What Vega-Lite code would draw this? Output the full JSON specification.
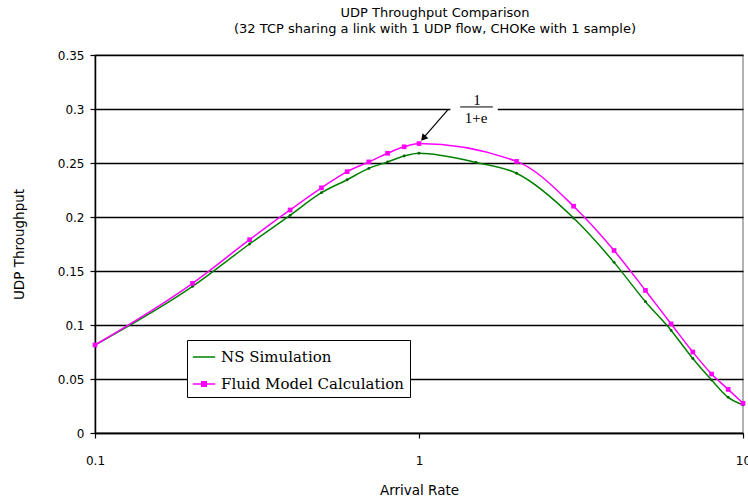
{
  "$schema": "https://vega.github.io/schema/vega-lite/v6.json",
  "width": 648,
  "height": 378,
  "autosize": {"type": "none"},
  "padding": {"left": 95, "top": 55, "right": 5, "bottom": 70},
  "background": "white",
  "title": {
    "text": ["UDP Throughput Comparison", "(32 TCP sharing a link with 1 UDP flow, CHOKe with 1 sample)"],
    "font": "DejaVu Sans",
    "fontSize": 13,
    "fontWeight": "normal",
    "lineHeight": 16,
    "color": "black",
    "offset": 13,
    "dx": 16
  },
  "config": {
    "view": {"stroke": "#999999", "strokeWidth": 1.5},
    "axis": {
      "labelFont": "DejaVu Sans",
      "labelFontSize": 12,
      "labelColor": "black",
      "titleFont": "DejaVu Sans",
      "titleFontSize": 13.5,
      "titleFontWeight": "normal",
      "titleColor": "black",
      "domainColor": "black",
      "domainWidth": 1.5,
      "tickColor": "black",
      "tickSize": 5,
      "tickWidth": 1.2,
      "gridColor": "black",
      "gridWidth": 1.5,
      "gridOpacity": 1
    }
  },
  "datasets": {
    "curves": [
      {"x": 0.1, "y": 0.0815, "series": "NS Simulation"},
      {"x": 0.2, "y": 0.1357, "series": "NS Simulation"},
      {"x": 0.3, "y": 0.175, "series": "NS Simulation"},
      {"x": 0.4, "y": 0.2015, "series": "NS Simulation"},
      {"x": 0.5, "y": 0.2225, "series": "NS Simulation"},
      {"x": 0.6, "y": 0.2345, "series": "NS Simulation"},
      {"x": 0.7, "y": 0.245, "series": "NS Simulation"},
      {"x": 0.8, "y": 0.251, "series": "NS Simulation"},
      {"x": 0.9, "y": 0.2565, "series": "NS Simulation"},
      {"x": 1, "y": 0.259, "series": "NS Simulation"},
      {"x": 1.5, "y": 0.2505, "series": "NS Simulation"},
      {"x": 2, "y": 0.2405, "series": "NS Simulation"},
      {"x": 3, "y": 0.199, "series": "NS Simulation"},
      {"x": 4, "y": 0.158, "series": "NS Simulation"},
      {"x": 5, "y": 0.1216, "series": "NS Simulation"},
      {"x": 6, "y": 0.095, "series": "NS Simulation"},
      {"x": 7, "y": 0.069, "series": "NS Simulation"},
      {"x": 8, "y": 0.049, "series": "NS Simulation"},
      {"x": 9, "y": 0.033, "series": "NS Simulation"},
      {"x": 10, "y": 0.026, "series": "NS Simulation"},
      {"x": 0.1, "y": 0.0815, "series": "Fluid Model Calculation"},
      {"x": 0.2, "y": 0.1386, "series": "Fluid Model Calculation"},
      {"x": 0.3, "y": 0.179, "series": "Fluid Model Calculation"},
      {"x": 0.4, "y": 0.2065, "series": "Fluid Model Calculation"},
      {"x": 0.5, "y": 0.227, "series": "Fluid Model Calculation"},
      {"x": 0.6, "y": 0.242, "series": "Fluid Model Calculation"},
      {"x": 0.7, "y": 0.251, "series": "Fluid Model Calculation"},
      {"x": 0.8, "y": 0.259, "series": "Fluid Model Calculation"},
      {"x": 0.9, "y": 0.265, "series": "Fluid Model Calculation"},
      {"x": 1, "y": 0.268, "series": "Fluid Model Calculation"},
      {"x": 2, "y": 0.2515, "series": "Fluid Model Calculation"},
      {"x": 3, "y": 0.21, "series": "Fluid Model Calculation"},
      {"x": 4, "y": 0.169, "series": "Fluid Model Calculation"},
      {"x": 5, "y": 0.132, "series": "Fluid Model Calculation"},
      {"x": 6, "y": 0.101, "series": "Fluid Model Calculation"},
      {"x": 7, "y": 0.075, "series": "Fluid Model Calculation"},
      {"x": 8, "y": 0.0546, "series": "Fluid Model Calculation"},
      {"x": 9, "y": 0.0404, "series": "Fluid Model Calculation"},
      {"x": 10, "y": 0.0275, "series": "Fluid Model Calculation"}
    ],
    "labelbox": [{"x": 1.25, "x2": 1.75, "y": 0.284, "y2": 0.327}],
    "fractext": [
      {"x": 1.51, "y": 0.3083, "label": "1"},
      {"x": 1.5, "y": 0.2914, "label": "1+e"}
    ],
    "fracbar": [{"x": 1.34, "x2": 1.69, "y": 0.3019}],
    "arrow": [{"x": 1.231, "y": 0.2997, "x2": 1.04, "y2": 0.2745}],
    "arrowhead": [{"x": 1.031, "y": 0.2729}]
  },
  "layer": [
    {
      "data": {"name": "labelbox"},
      "mark": {"type": "rect", "fill": "white"},
      "encoding": {
        "x": {"field": "x", "type": "quantitative", "scale": {"type": "log", "domain": [0.1, 10]}},
        "x2": {"field": "x2"},
        "y": {"field": "y", "type": "quantitative", "scale": {"domain": [0, 0.35]}},
        "y2": {"field": "y2"}
      }
    },
    {
      "data": {"name": "curves"},
      "mark": {"type": "line", "interpolate": "monotone", "strokeWidth": 1.5},
      "encoding": {
        "x": {
          "field": "x", "type": "quantitative",
          "scale": {"type": "log", "domain": [0.1, 10], "nice": false},
          "axis": {"values": [0.1, 1, 10], "format": "~g", "grid": false, "title": "Arrival Rate", "labelPadding": 17, "titlePadding": 17, "labelFlush": false}
        },
        "y": {
          "field": "y", "type": "quantitative",
          "scale": {"domain": [0, 0.35], "nice": false},
          "axis": {"values": [0, 0.05, 0.1, 0.15, 0.2, 0.25, 0.3, 0.35], "format": "~g", "title": "UDP Throughput", "labelPadding": 6, "titlePadding": 31}
        },
        "color": {
          "field": "series", "type": "nominal",
          "scale": {"domain": ["NS Simulation", "Fluid Model Calculation"], "range": ["#008000", "#ff00ff"]},
          "legend": {
            "title": null,
            "orient": "none",
            "legendX": 92,
            "legendY": 285,
            "direction": "vertical",
            "strokeColor": "black",
            "fillColor": "white",
            "padding": 5,
            "labelFont": "DejaVu Serif",
            "labelFontSize": 15,
            "labelColor": "black",
            "labelOffset": 5,
            "labelLimit": 400,
            "symbolType": "stroke",
            "symbolSize": 500,
            "symbolStrokeWidth": 1.5,
            "rowPadding": 7,
            "encode": {
              "symbols": {
                "update": {
                  "shape": {"signal": "datum.value === 'NS Simulation' ? 'M-1,0L1,0' : 'M-1,0L1,0M-0.2,-0.2L0.2,-0.2L0.2,0.2L-0.2,0.2Z'"},
                  "fill": {"signal": "datum.value === 'NS Simulation' ? 'transparent' : '#ff00ff'"}
                }
              }
            }
          }
        }
      }
    },
    {
      "data": {"name": "curves"},
      "mark": {"type": "point", "filled": true, "opacity": 1},
      "encoding": {
        "x": {"field": "x", "type": "quantitative", "scale": {"type": "log", "domain": [0.1, 10]}},
        "y": {"field": "y", "type": "quantitative"},
        "color": {"field": "series", "type": "nominal", "scale": {"domain": ["NS Simulation", "Fluid Model Calculation"], "range": ["#006400", "#ff00ff"]}, "legend": null},
        "shape": {"field": "series", "type": "nominal", "scale": {"domain": ["NS Simulation", "Fluid Model Calculation"], "range": ["circle", "square"]}, "legend": null},
        "size": {"field": "series", "type": "nominal", "scale": {"domain": ["NS Simulation", "Fluid Model Calculation"], "range": [8, 22]}, "legend": null}
      }
    },
    {
      "data": {"name": "fractext"},
      "mark": {"type": "text", "font": "Liberation Serif", "fontSize": 15, "color": "black", "align": "center", "baseline": "middle"},
      "encoding": {
        "x": {"field": "x", "type": "quantitative"},
        "y": {"field": "y", "type": "quantitative"},
        "text": {"field": "label"}
      }
    },
    {
      "data": {"name": "fracbar"},
      "mark": {"type": "rule", "color": "black", "strokeWidth": 1},
      "encoding": {
        "x": {"field": "x", "type": "quantitative"},
        "x2": {"field": "x2"},
        "y": {"field": "y", "type": "quantitative"}
      }
    },
    {
      "data": {"name": "arrow"},
      "mark": {"type": "rule", "color": "black", "strokeWidth": 1.2},
      "encoding": {
        "x": {"field": "x", "type": "quantitative"},
        "x2": {"field": "x2"},
        "y": {"field": "y", "type": "quantitative"},
        "y2": {"field": "y2"}
      }
    },
    {
      "data": {"name": "arrowhead"},
      "mark": {"type": "point", "shape": "triangle-up", "filled": true, "color": "black", "size": 60, "angle": 221, "opacity": 1},
      "encoding": {
        "x": {"field": "x", "type": "quantitative"},
        "y": {"field": "y", "type": "quantitative"}
      }
    }
  ],
  "resolve": {"scale": {"color": "independent"}}
}
